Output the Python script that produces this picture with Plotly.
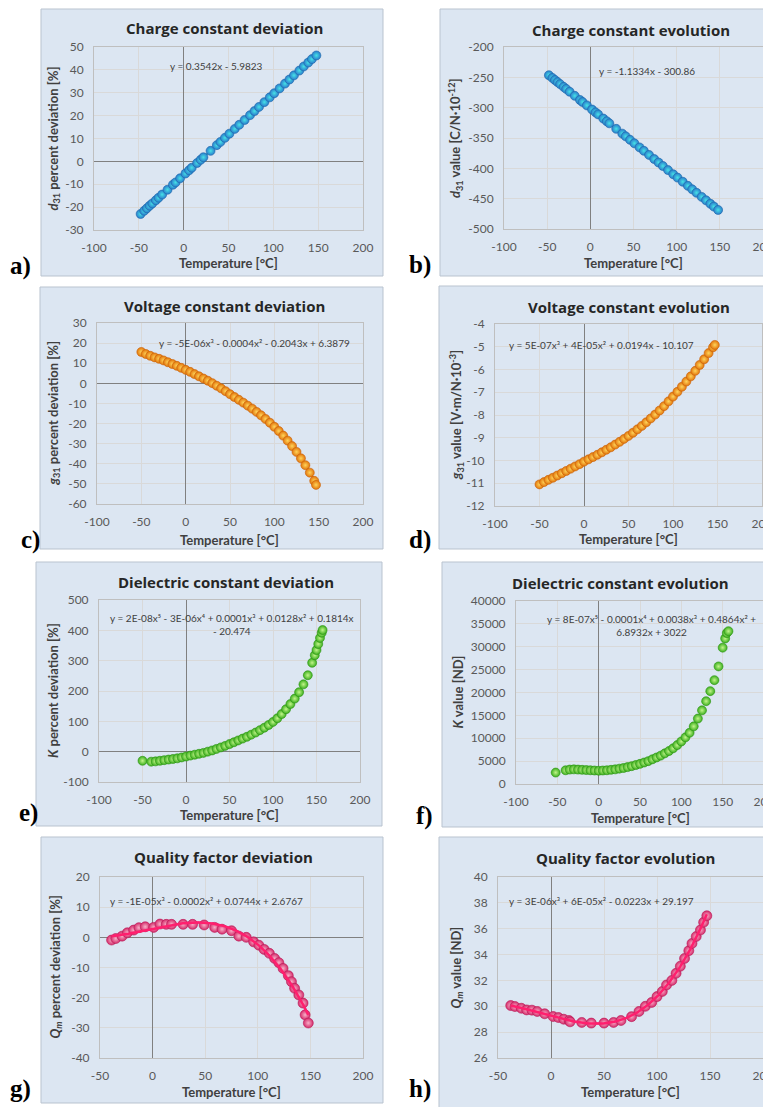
import numpy as np
import plotly.graph_objects as go

W, H = 771, 1107
OFF = 8  # page body margin offset in the browser

# ---------------- data ----------------
temp_ab = [-48, -44, -41, -38, -35, -31, -28, -24, -18, -12, -9, -4, 2, 6, 9, 15, 19, 22, 30, 37, 41,
           46, 51, 57, 62, 68, 74, 79, 84, 90, 96, 101, 107, 113, 118, 123, 129, 134, 139, 143, 148]
d31_dev = [-23.0, -21.6, -20.5, -19.4, -18.4, -17.0, -15.9, -14.5, -12.4, -10.2, -9.2, -7.4, -5.3, -3.9,
           -2.8, -0.7, 0.7, 1.8, 4.6, 7.1, 8.5, 10.3, 12.1, 14.2, 16.0, 18.1, 20.2, 22.0, 23.8, 25.9,
           28.0, 29.8, 31.9, 34.0, 35.8, 37.6, 39.7, 41.5, 43.2, 44.7, 46.3]
d31_val = [-246.5, -251.0, -254.4, -257.8, -261.2, -265.7, -269.1, -273.7, -280.5, -287.3, -290.7,
           -296.3, -303.1, -307.7, -311.1, -317.9, -322.4, -325.8, -334.9, -342.8, -347.3, -353.0,
           -358.7, -365.5, -371.1, -377.9, -384.7, -390.4, -396.1, -402.9, -409.7, -415.3, -422.1,
           -428.9, -434.6, -440.3, -447.1, -452.7, -458.4, -463.0, -468.6]

temp_cd = [-50, -45, -40, -35, -30, -25, -20, -15, -10, -5, 0, 5, 10, 15, 20, 25, 30, 35, 40, 45, 50,
           55, 60, 65, 70, 75, 80, 85, 90, 95, 100, 105, 110, 115, 120, 125, 130, 135, 140, 145, 147]
g31_dev = [15.6, 14.6, 13.7, 12.9, 12.2, 11.4, 10.5, 9.6, 8.7, 7.7, 6.7, 5.7, 4.6, 3.5, 2.4, 1.3, 0.1,
           -1.2, -2.5, -3.9, -5.4, -6.8, -8.2, -9.6, -11.1, -12.6, -14.2, -15.9, -17.7, -19.6, -21.6,
           -23.7, -26.0, -28.5, -31.2, -34.1, -37.3, -40.7, -44.4, -48.5, -50.5]
g31_val = [-11.05, -10.95, -10.85, -10.76, -10.66, -10.56, -10.46, -10.36, -10.26, -10.16, -10.05,
           -9.95, -9.85, -9.75, -9.64, -9.53, -9.42, -9.30, -9.18, -9.05, -8.92, -8.78, -8.63, -8.48,
           -8.32, -8.15, -7.98, -7.80, -7.61, -7.40, -7.19, -6.98, -6.76, -6.53, -6.30, -6.06, -5.80,
           -5.55, -5.28, -5.02, -4.92]

temp_e = [-50, -40, -35, -30, -25, -20, -15, -10, -5, 0, 5, 10, 15, 20, 25, 30, 35, 40, 45, 50, 55, 60,
          65, 70, 75, 80, 85, 90, 95, 100, 105, 110, 115, 120, 125, 130, 135, 140, 145, 148, 150, 152,
          154, 156, 157]
k_dev = [-30, -33, -32, -30, -28, -26, -24, -22, -19, -16, -13, -10, -7, -4, 0, 4, 9, 14, 19, 25, 31,
         37, 43, 49, 56, 63, 71, 79, 88, 98, 110, 124, 140, 157, 175, 196, 222, 252, 293, 318, 335,
         355, 375, 392, 401]

temp_f = [-52, -40, -35, -30, -25, -20, -15, -10, -5, 0, 5, 10, 15, 20, 25, 30, 35, 40, 45, 50, 55, 60,
          65, 70, 75, 80, 85, 90, 95, 100, 105, 110, 115, 120, 125, 130, 135, 140, 145, 150, 153, 155,
          157]
k_val = [2500, 3000, 3150, 3200, 3150, 3100, 3050, 3000, 2950, 2900, 2950, 3000, 3100, 3200, 3350,
         3500, 3700, 3900, 4150, 4400, 4700, 5000, 5400, 5800, 6200, 6700, 7200, 7800, 8500, 9300,
         10200, 11200, 12600, 14300, 16100, 18100, 20300, 22700, 25700, 29800, 31800, 33000, 33400]

temp_g = [-39, -35, -29, -24, -18, -13, -7, 1, 7, 13, 18, 29, 38, 49, 59, 66, 75, 82, 89, 96, 101,
          106, 111, 116, 120, 124, 129, 132, 135, 139, 143, 145, 148]
qm_dev = [-0.9, -0.4, 0.4, 1.5, 2.4, 3.2, 3.5, 3.3, 4.4, 4.3, 4.3, 4.3, 4.3, 4.1, 3.3, 2.7, 2.2, 0.4,
          0.0, -1.5, -2.6, -4.0, -5.3, -7.0, -8.4, -10.3, -12.7, -14.7, -16.9, -19.1, -21.8, -25.7,
          -28.4]

temp_h = [-38, -34, -28, -23, -18, -13, -6, 2, 7, 12, 17, 18, 29, 38, 50, 59, 66, 76, 83, 89, 95, 100,
          105, 109, 114, 118, 122, 126, 130, 133, 137, 141, 144, 147]
qm_val = [30.06, 29.98, 29.85, 29.72, 29.70, 29.60, 29.42, 29.21, 29.13, 29.00, 28.90, 28.80, 28.75,
          28.70, 28.70, 28.75, 28.90, 29.20, 29.60, 30.00, 30.30, 30.75, 31.15, 31.65, 32.00, 32.55,
          33.10, 33.70, 34.30, 34.86, 35.40, 35.90, 36.50, 37.00]

# tick labels
xticks_main = [-100, -50, 0, 50, 100, 150, 200]
xticks_q = [-50, 0, 50, 100, 150, 200]
yticks_a = [-30, -20, -10, 0, 10, 20, 30, 40, 50]
yticks_b = [-500, -450, -400, -350, -300, -250, -200]
yticks_c = [-60, -50, -40, -30, -20, -10, 0, 10, 20, 30]
yticks_d = [-12, -11, -10, -9, -8, -7, -6, -5, -4]
yticks_e = [-100, 0, 100, 200, 300, 400, 500]
yticks_f = [0, 5000, 10000, 15000, 20000, 25000, 30000, 35000, 40000]
yticks_g = [-40, -30, -20, -10, 0, 10, 20]
yticks_h = [26, 28, 30, 32, 34, 36, 38, 40]

titles = ["Charge constant deviation", "Charge constant evolution",
          "Voltage constant deviation", "Voltage constant evolution",
          "Dielectric constant deviation", "Dielectric constant evolution",
          "Quality factor deviation", "Quality factor evolution"]
ytitles = ["<b><i>d</i><sub>31</sub> percent deviation [%]</b>",
           "<b><i>d</i><sub>31</sub> value [C/N·10<sup>-12</sup>]</b>",
           "<b><i>g</i><sub>31</sub> percent deviation [%]</b>",
           "<b><i>g</i><sub>31</sub> value [V·m/N·10<sup>-3</sup>]</b>",
           "<b><i>K</i> percent deviation [%]</b>",
           "<b><i>K</i> value [ND]</b>",
           "<b><i>Q<sub>m</sub></i> percent deviation [%]</b>",
           "<b><i>Q<sub>m</sub></i> value [ND]</b>"]
equations = ["y = 0.3542x - 5.9823",
             "y = -1.1334x - 300.86",
             "y = -5E-06x³ - 0.0004x² - 0.2043x + 6.3879",
             "y = 5E-07x³ + 4E-05x² + 0.0194x - 10.107",
             "y = 2E-08x⁵ - 3E-06x⁴ + 0.0001x³ + 0.0128x² + 0.1814x<br>- 20.474",
             "y = 8E-07x⁵ - 0.0001x⁴ + 0.0038x³ + 0.4864x² +<br>6.8932x + 3022",
             "y = -1E-05x³ - 0.0002x² + 0.0744x + 2.6767",
             "y = 3E-06x³ + 6E-05x² - 0.0223x + 29.197"]
letters = ["a)", "b)", "c)", "d)", "e)", "f)", "g)", "h)"]
xlabel = "<b>Temperature [°C]</b>"

# ---------------- layout geometry (target pixels) ----------------
boxes = [(41, 9, 383, 276), (440, 9, 785, 276), (40, 287, 383, 549), (439, 286, 785, 549),
         (36, 562, 382, 826), (442, 562, 785, 827), (41, 837, 383, 1103), (439, 837, 785, 1120)]
plots = [(94, 47, 363, 230), (504, 47, 763, 229), (97, 323, 363, 504), (495, 324, 762, 506),
         (99, 600, 360, 782), (516, 601, 764, 784), (100, 877, 363, 1058), (498, 877, 763, 1058)]
title_y = [28, 30, 306, 307, 582, 583, 857, 858]
title_x = [224, 631, 224, 629, 226, 620, 223, 625]
ytitle_x = [53, 455, 53, 457, 53, 457, 55, 456]
xtitle_y = [263, 263, 540, 539, 815, 818, 1092, 1092]
letter_pos = [(20, 266), (420, 265), (30, 540), (420, 540), (28, 813), (424, 816), (20, 1089), (420, 1089)]
eq_pos = [(37, 41.7), (65.7, -239.6), (78, 20.2), (19.9, -4.92), (52.9, 417.6), (64.5, 34754),
          (50.8, 12.1), (47.8, 38.17)]

xranges = [(-100, 200)] * 6 + [(-50, 200)] * 2
xtick_lists = [xticks_main] * 6 + [xticks_q] * 2
yranges = [(-30, 50), (-500, -200), (-60, 30), (-12, -4), (-100, 500), (0, 40000), (-40, 20), (26, 40)]
ytick_lists = [yticks_a, yticks_b, yticks_c, yticks_d, yticks_e, yticks_f, yticks_g, yticks_h]

series = [(temp_ab, d31_dev, "teal", 1, 9), (temp_ab, d31_val, "teal", 1, 9),
          (temp_cd, g31_dev, "orange", 3, 9), (temp_cd, g31_val, "orange", 3, 9),
          (temp_e, k_dev, "green", 0, 9), (temp_f, k_val, "green", 0, 9),
          (temp_g, qm_dev, "pink", 3, 10), (temp_h, qm_val, "pink", 3, 10)]

palette = {
    "teal": dict(outer="#2a7ccc", center="#46e2e6", edge="#1d66a8", trend="#1f95b5"),
    "orange": dict(outer="#e2760c", center="#ffd45a", edge="#c96208", trend="#e8620a"),
    "green": dict(outer="#3caf1e", center="#c2f58a", edge="#2d9414", trend="#3fae1c"),
    "pink": dict(outer="#d42a6a", center="#f8b0c8", edge="#b81a55", trend="#ff1f6e"),
}


def px_x(p):
    return (p - OFF) / W


def px_y(p):
    return 1 - (p - OFF) / H


fig = go.Figure()
shapes = []
annotations = []
FONT = "Lato, 'Open Sans', sans-serif"

for i in range(8):
    n = "" if i == 0 else str(i + 1)
    xa, ya = "x" + n, "y" + n
    x0, y0, x1, y1 = plots[i]
    bx0, by0, bx1, by1 = boxes[i]
    shapes.append(dict(type="rect", xref="paper", yref="paper", x0=px_x(bx0), x1=px_x(bx1),
                       y0=px_y(by1), y1=px_y(by0), fillcolor="#dce6f2",
                       line=dict(color="#b9c3cf", width=1), layer="below"))
    xs, ys, col, deg, msize = series[i]
    pal = palette[col]
    if deg > 0:
        coef = np.polyfit(xs, ys, deg)
        tx = np.linspace(min(xs), max(xs), 200)
        ty = np.polyval(coef, tx)
        fig.add_trace(go.Scatter(x=tx, y=ty, mode="lines", xaxis=xa, yaxis=ya,
                                 line=dict(color=pal["trend"], width=2),
                                 showlegend=False, hoverinfo="skip"))
    fig.add_trace(go.Scatter(x=xs, y=ys, mode="markers", xaxis=xa, yaxis=ya, showlegend=False,
                             marker=dict(size=msize, color=pal["outer"],
                                         gradient=dict(type="radial", color=pal["center"]),
                                         line=dict(color=pal["edge"], width=0.6))))
    if deg > 0 and col == "pink":
        fig.add_trace(go.Scatter(x=tx, y=ty, mode="lines", xaxis=xa, yaxis=ya,
                                 line=dict(color=pal["trend"], width=2.5),
                                 showlegend=False, hoverinfo="skip"))

    axis_common = dict(showgrid=True, gridcolor="#d9d9d9", gridwidth=1,
                       zeroline=True, zerolinecolor="#808080", zerolinewidth=1.2,
                       showline=True, linecolor="#bfbfbf", linewidth=1, mirror=True,
                       ticks="outside", ticklen=7, tickcolor="rgba(0,0,0,0)",
                       tickfont=dict(family=FONT, size=12, color="#595959"),
                       automargin=False, fixedrange=True)
    fig.layout["xaxis" + n] = dict(axis_common, domain=[px_x(x0), px_x(x1)], anchor=ya,
                                   range=list(xranges[i]), tickmode="array",
                                   tickvals=xtick_lists[i], ticktext=[str(v) for v in xtick_lists[i]])
    fig.layout["yaxis" + n] = dict(axis_common, domain=[px_y(y1), px_y(y0)], anchor=xa,
                                   range=list(yranges[i]), tickmode="array",
                                   tickvals=ytick_lists[i], ticktext=[str(v) for v in ytick_lists[i]])

    annotations.append(dict(text="<b>" + titles[i] + "</b>", xref="paper", yref="paper",
                            x=px_x(title_x[i]), y=px_y(title_y[i]), xanchor="center", yanchor="middle",
                            showarrow=False, font=dict(family="'Open Sans', sans-serif", size=15,
                                                       color="#262626")))
    annotations.append(dict(text=xlabel, xref="paper", yref="paper",
                            x=px_x((x0 + x1) / 2), y=px_y(xtitle_y[i]), xanchor="center",
                            yanchor="middle", showarrow=False,
                            font=dict(family=FONT, size=13, color="#404040")))
    annotations.append(dict(text=ytitles[i], xref="paper", yref="paper", textangle=-90,
                            x=px_x(ytitle_x[i]), y=px_y((y0 + y1) / 2), xanchor="center",
                            yanchor="middle", showarrow=False,
                            font=dict(family=FONT, size=13, color="#404040")))
    annotations.append(dict(text=equations[i], xref=xa, yref=ya, x=eq_pos[i][0], y=eq_pos[i][1],
                            xanchor="center", yanchor="middle", showarrow=False, align="center",
                            font=dict(family=FONT, size=10, color="#404040")))
    annotations.append(dict(text="<b>" + letters[i] + "</b>", xref="paper", yref="paper",
                            x=px_x(letter_pos[i][0]), y=px_y(letter_pos[i][1]), xanchor="center",
                            yanchor="middle", showarrow=False,
                            font=dict(family="'Liberation Serif', serif", size=25, color="#000000")))

fig.update_layout(template="none", width=W, height=H, autosize=False,
                  margin=dict(l=0, r=0, t=0, b=0, pad=0),
                  paper_bgcolor="#ffffff", plot_bgcolor="#ffffff",
                  shapes=shapes, annotations=annotations, showlegend=False)

fig.write_html("out.html")
